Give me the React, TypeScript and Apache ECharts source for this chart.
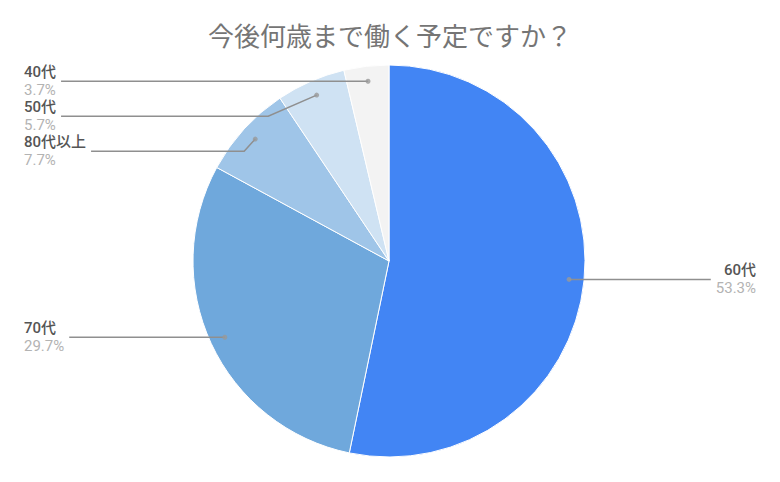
import { useEffect, useRef } from 'react';
import * as echarts from 'echarts';

const title = '今後何歳まで働く予定ですか？';
const categories = ['60代', '70代', '80代以上', '50代', '40代'];
const values = [53.3, 29.7, 7.7, 5.7, 3.7];
const colors = ['#4285F4', '#6FA8DC', '#9FC5E8', '#CFE2F3', '#F3F3F3'];

const FONT = 'Roboto, "Noto Sans CJK JP", sans-serif';

export default function App() {
  const chartRef = useRef<HTMLDivElement>(null);

  useEffect(() => {
    document.body.style.margin = '0';
    const chart = echarts.init(chartRef.current, null, { renderer: 'svg' });

    const total = values.reduce((a, b) => a + b, 0);
    // middle of each slice, on a polar axis that uses the pie's scale
    const mids: number[] = [];
    let acc = 0;
    values.forEach((v) => {
      mids.push(acc + v / 2);
      acc += v;
    });

    const option = {
      animation: false,
      backgroundColor: '#fff',
      textStyle: { fontFamily: FONT },
      title: {
        text: title,
        left: 'center',
        top: 19,
        textStyle: { fontSize: 26, fontWeight: 'normal', color: '#757575', fontFamily: FONT },
      },
      polar: { center: [389, 261], radius: 196 },
      angleAxis: {
        type: 'value',
        min: 0,
        max: total,
        startAngle: 90,
        clockwise: true,
        show: false,
      },
      radiusAxis: { type: 'value', min: 0, max: 196, show: false },
      series: [
        {
          type: 'pie',
          center: [389, 261],
          radius: 196,
          startAngle: 90,
          clockwise: true,
          silent: true,
          z: 1,
          itemStyle: { borderColor: '#fff', borderWidth: 1 },
          label: { show: false },
          labelLine: { show: false },
          data: categories.map((name, i) => ({
            name,
            value: values[i],
            itemStyle: { color: colors[i] },
          })),
        },
        {
          // invisible pie that only carries the labels and their lines
          type: 'pie',
          center: [389, 261],
          radius: 181,
          startAngle: 90,
          clockwise: true,
          silent: true,
          z: 4,
          itemStyle: { color: 'rgba(0,0,0,0)' },
          label: {
            show: true,
            alignTo: 'edge',
            edgeDistance: 24,
            formatter: '{n|{b}}\n{v|{c}%}',
            rich: {
              n: { color: '#555', fontSize: 15, fontWeight: 500, lineHeight: 18, fontFamily: FONT },
              v: { color: '#b3b3b3', fontSize: 15, lineHeight: 18, fontFamily: FONT },
            },
          },
          labelLine: {
            show: true,
            length: 0,
            length2: 0,
            lineStyle: { color: '#8f8f8f', width: 1.5 },
          },
          data: categories.map((name, i) => ({ name, value: values[i] })),
        },
        {
          type: 'scatter',
          coordinateSystem: 'polar',
          symbol: 'circle',
          symbolSize: 5,
          silent: true,
          itemStyle: { color: '#999' },
          data: mids.map((m) => [181, m]),
          z: 5,
        },
      ],
    };

    chart.setOption(option);
    return () => {
      chart.dispose();
    };
  }, []);

  return <div ref={chartRef} style={{ width: '780px', height: '482px' }} />;
}
